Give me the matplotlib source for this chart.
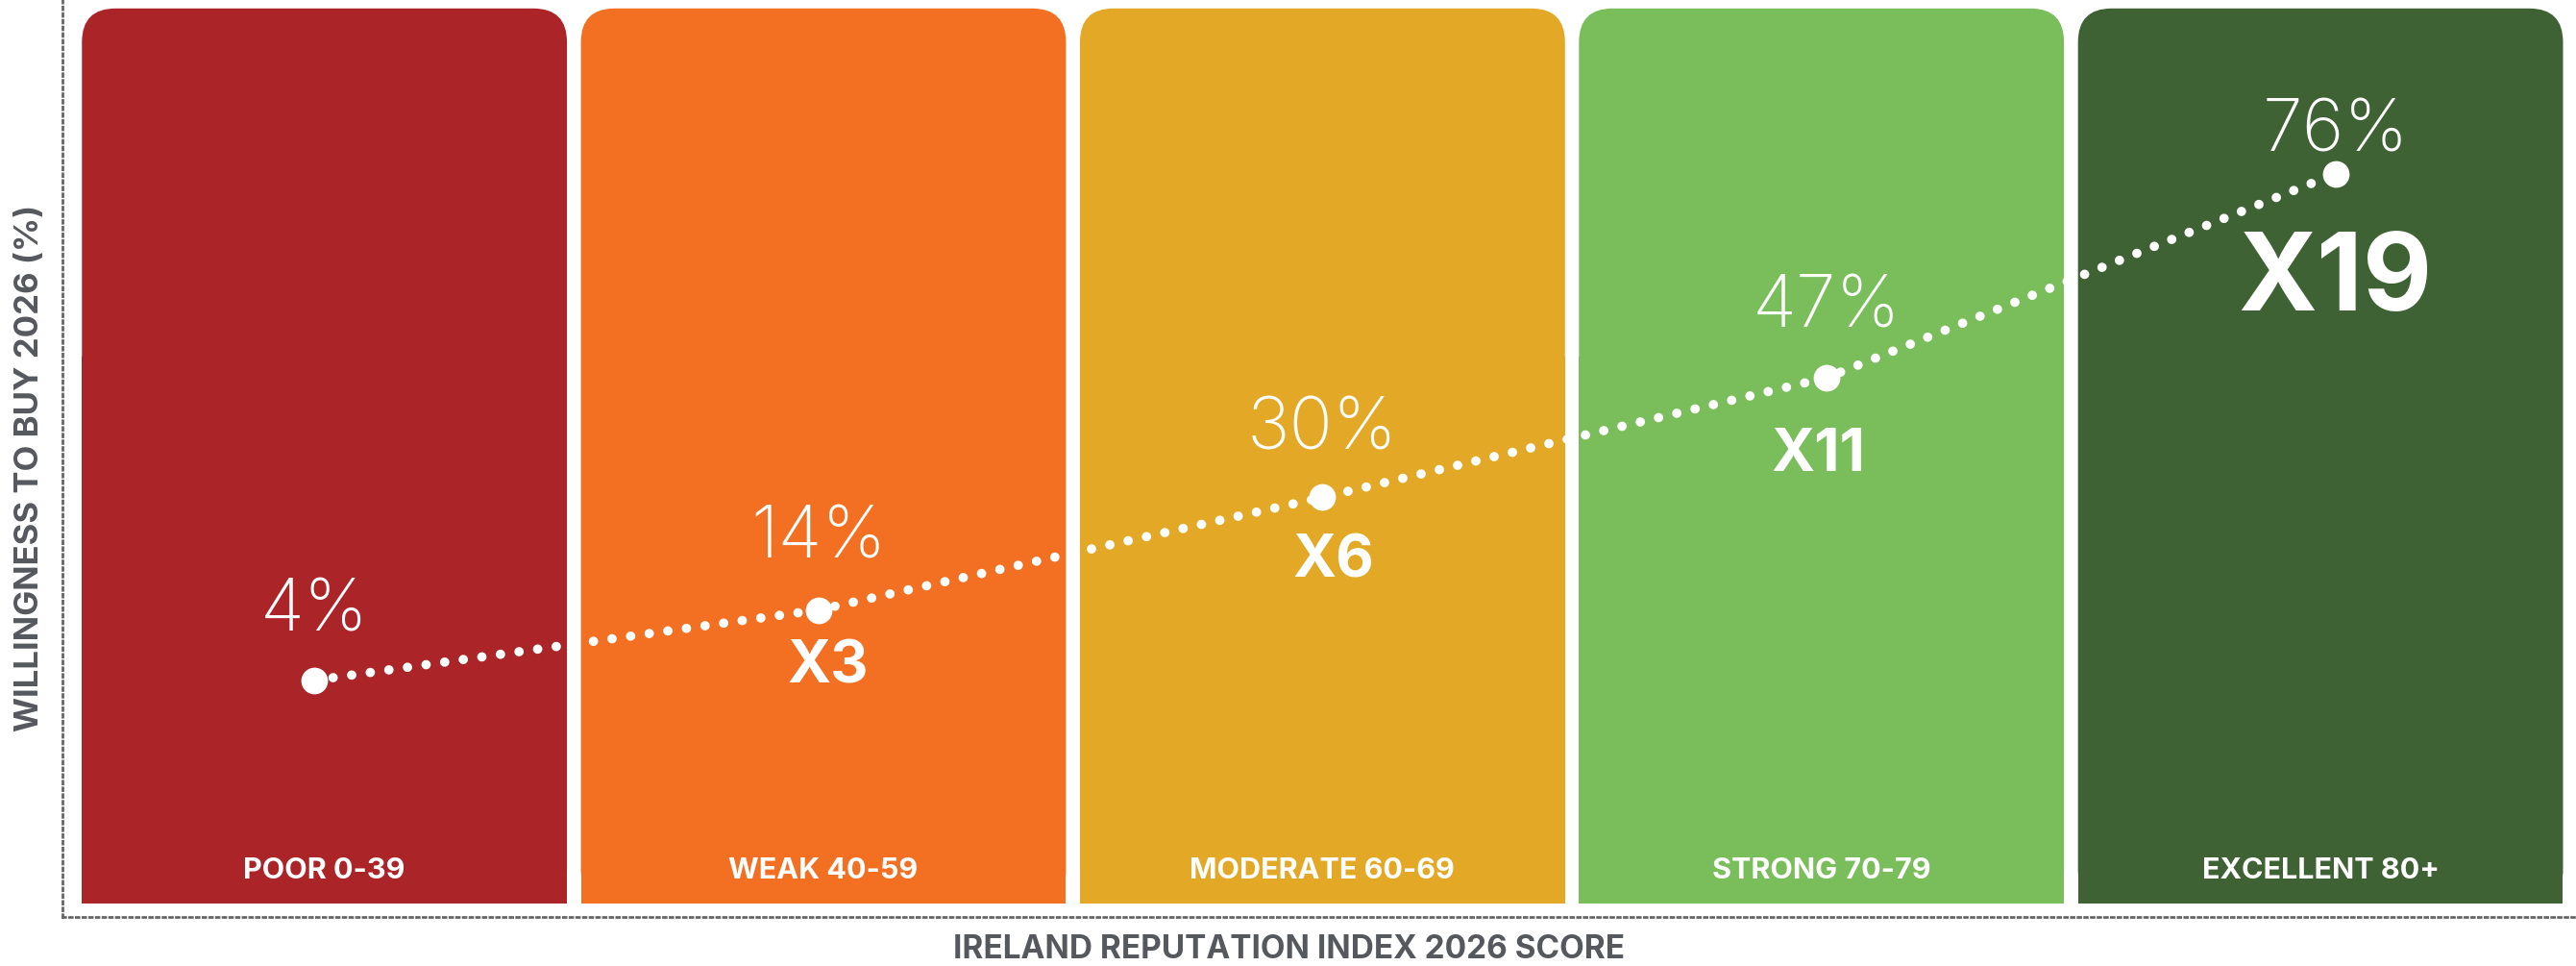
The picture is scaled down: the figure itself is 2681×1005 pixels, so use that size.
import matplotlib
matplotlib.use("Agg")
import matplotlib.pyplot as plt
from matplotlib.patches import FancyBboxPatch

# ==== data ====
categories = ["POOR 0-39", "WEAK 40-59", "MODERATE 60-69", "STRONG 70-79", "EXCELLENT 80+"]
willingness = [4, 14, 30, 47, 76]
point_x = [-0.02, 0.99, 2.0, 3.01, 4.03]
multipliers = ["", "X3", "X6", "X11", "X19"]
band_colors = ["#AB2428", "#F37022", "#E3A926", "#79BE5A", "#3F6235"]

band_bottom = -27.7
band_top = 99.5
band_width = 0.972

grey = "#55585D"
plt.rcParams['font.family'] = ['Inter', 'DejaVu Sans']

# ==== figure ====
W, H, DPI = 2681, 1005, 100
fig = plt.figure(figsize=(W / DPI, H / DPI), dpi=DPI)
ax = fig.add_axes([65 / W, (H - 954) / H, (W - 65) / W, 954 / H])
ax.set_xlim(-0.525, 4.512)
ax.set_ylim(-29.65, 100.7)

# pixel -> data scale, used for rounding the band tops
px_x = (4.512 + 0.525) / (W - 65)
px_y = (100.7 + 29.65) / 954
r_px = 35
rx = r_px * px_x
aspect = (r_px * px_y) / rx

x = list(range(len(categories)))

# lower square part of each band
ax.bar(x, [50 - band_bottom] * len(x), bottom=band_bottom, width=band_width,
       color=band_colors, linewidth=0, zorder=1)
# rounded top corners
for xi, c in zip(x, band_colors):
    p = FancyBboxPatch((xi - band_width / 2, band_bottom), band_width, band_top - band_bottom,
                       boxstyle=f"round,pad=0,rounding_size={rx}", mutation_aspect=aspect,
                       facecolor=c, edgecolor='none', zorder=1)
    ax.add_patch(p)

# category labels at the bottom of each band
for xi, lab in zip(x, categories):
    ax.text(xi, -23.1, lab, ha='center', va='center', color='white',
            fontsize=22, fontweight='bold', zorder=3)

# dotted trend line + markers
ax.plot(point_x, willingness, color='white', linewidth=7, linestyle=(0, (0.01, 2.0)),
        dash_capstyle='round', zorder=4)
ax.plot(point_x, willingness, 'o', color='white', markersize=20, markeredgewidth=0, zorder=5)

# percentage labels above points
pct_off = [51, 53, 50, 52, 31]
for xi, v, off in zip(point_x, willingness, pct_off):
    ax.annotate(f"{v}%", (xi, v), xytext=(0, off), textcoords='offset points',
                ha='center', va='center', color='white', fontsize=54,
                fontweight='light', zorder=6)

# multiplier labels below points
mul_off = [0, -43, -48, -58, -81]
mul_size = [0, 44, 44, 44, 80]
mul_dx = [0, 7, 8, -6, 0]
for xi, v, m, off, fs, dx in zip(point_x, willingness, multipliers, mul_off, mul_size, mul_dx):
    if not m:
        continue
    ax.annotate(m, (xi, v), xytext=(dx, off), textcoords='offset points',
                ha='center', va='center', color='white', fontsize=fs,
                fontweight='bold', zorder=6)

# axes styling: dotted left and bottom spines only
for s in ['top', 'right']:
    ax.spines[s].set_visible(False)
for s in ['left', 'bottom']:
    ax.spines[s].set_linestyle((0, (1, 1.5)))
    ax.spines[s].set_color('#666666')
    ax.spines[s].set_linewidth(2)
ax.set_xticks([])
ax.set_yticks([])

fig.text(1342 / W, 1 - 988 / H, "IRELAND REPUTATION INDEX 2026 SCORE", ha='center', va='center',
         color=grey, fontsize=24, fontweight='bold')
fig.text(31 / W, 1 - 487 / H, "WILLINGNESS TO BUY 2026 (%)", ha='center', va='center',
         rotation=90, color=grey, fontsize=25, fontweight='bold')

fig.savefig("out.png", dpi=DPI)
